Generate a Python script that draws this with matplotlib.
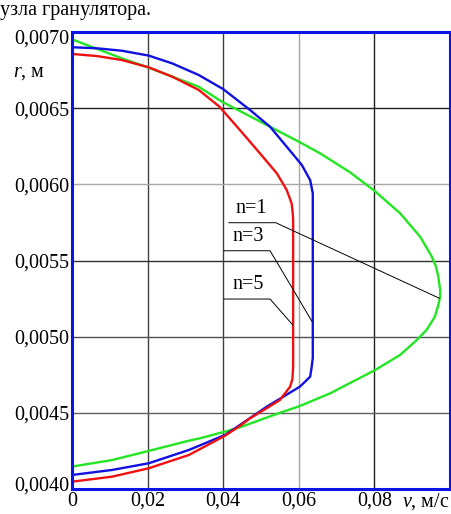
import matplotlib
matplotlib.use('Agg')
import matplotlib.pyplot as plt
from matplotlib.transforms import ScaledTranslation

plt.rcParams['font.family'] = ['Liberation Serif', 'DejaVu Serif']
plt.rcParams['mathtext.fontset'] = 'custom'
plt.rcParams['mathtext.rm'] = 'Liberation Serif'
plt.rcParams['mathtext.it'] = 'Liberation Serif:italic'

# n=1 (green)
v_n1 = [0, 0.0132, 0.0203, 0.0265, 0.0335, 0.0395, 0.0524, 0.060, 0.0656, 0.0735,
        0.080, 0.0868, 0.0921, 0.0952, 0.0963, 0.0969, 0.0974, 0.0974, 0.0969, 0.0960,
        0.0938, 0.0912, 0.0868, 0.0802, 0.0683, 0.0603, 0.055, 0.0444, 0.0414, 0.0339,
        0.0309, 0.0203, 0.0106, 0]
r_n1 = [0.006952, 0.006827, 0.006766, 0.006707, 0.006641, 0.006545, 0.006378, 0.00628,
        0.006204, 0.00608, 0.005958, 0.00581, 0.005656, 0.005525, 0.00546,
        0.005394, 0.005306, 0.005262, 0.005208, 0.005131, 0.005044, 0.004978, 0.00488,
        0.004781, 0.004628, 0.004545, 0.0045, 0.004405, 0.004383, 0.004333, 0.004317,
        0.00425, 0.00419, 0.004147]

# n=3 (blue)
v_n3 = [0, 0.0066, 0.0132, 0.0203, 0.0265, 0.0335, 0.0400, 0.0471, 0.0524, 0.0568, 0.0608,
        0.063, 0.0637, 0.0637, 0.0634, 0.063, 0.0603, 0.0559, 0.0515, 0.0444, 0.0405,
        0.0309, 0.0203, 0.0106, 0]
r_n3 = [0.0069, 0.006893, 0.006877, 0.006845, 0.006794, 0.006718, 0.006625, 0.006488,
        0.006378, 0.006247, 0.006127, 0.006028, 0.005941, 0.00486, 0.0048, 0.004737,
        0.004672, 0.004606, 0.00454, 0.00442, 0.004355, 0.004256, 0.004169, 0.004125,
        0.004092]

# n=5 (red)
v_n5 = [0, 0.0066, 0.0132, 0.0203, 0.0265, 0.0335, 0.039, 0.0444, 0.0497, 0.0542, 0.0568,
        0.0581, 0.0584, 0.0585, 0.0585, 0.0583, 0.0577, 0.055, 0.0515, 0.0471, 0.0444,
        0.0405, 0.0309, 0.0203, 0.0106, 0]
r_n5 = [0.006856, 0.006842, 0.006816, 0.006768, 0.006707, 0.00662, 0.00651, 0.006357,
        0.006204, 0.006072, 0.005963, 0.005875, 0.00581, 0.00576, 0.0048, 0.00472,
        0.004672, 0.004584, 0.00453, 0.004464, 0.004414, 0.00435, 0.004223, 0.004136,
        0.004081, 0.004048]

x_ticks = [0, 0.02, 0.04, 0.06, 0.08]
x_labels = ['0', '0,02', '0,04', '0,06', '0,08']
y_ticks = [0.0040, 0.0045, 0.0050, 0.0055, 0.0060, 0.0065, 0.0070]
y_labels = ['0,0040', '0,0045', '0,0050', '0,0055', '0,0060', '0,0065', '0,0070']

# curve labels: text, text pos, underline (x0, x1, y), end point on curve
labels = ['n=1', 'n=3', 'n=5']
label_xy = [(0.0475, 0.00584), (0.0466, 0.005656), (0.0466, 0.00534)]
under = [(0.0415, 0.0539, 0.005748), (0.0402, 0.0524, 0.005564), (0.0402, 0.0524, 0.005247)]
ends = [(0.0972, 0.005252), (0.0635, 0.00510), (0.0584, 0.005077)]

fs = 14.5
fig = plt.figure(figsize=(4.52, 5.14), dpi=100)
ax = fig.add_axes([72 / 452, 25 / 514, 378 / 452, 457 / 514])
ax.set_xlim(0, 0.1)
ax.set_ylim(0.004, 0.007)

ax.set_xticks(x_ticks)
ax.set_xticklabels(x_labels, fontsize=fs)
ax.set_yticks(y_ticks)
ax.set_yticklabels(y_labels, fontsize=fs)
ax.tick_params(length=0, pad=2)

ax.grid(True, lw=1.0)
xg_col = ['#404040', '#404040', '#404040', '#a8a8a8', '#202020']
for gl, c in zip(ax.get_xgridlines(), xg_col):
    gl.set_color(c)
yg_col = ['#404040', '#606060', '#505050', '#303030', '#a8a8a8', '#202020', '#202020']
for gl, c in zip(ax.get_ygridlines(), yg_col):
    gl.set_color(c)

# end labels nudged inward like in the original
ylabs = ax.get_yticklabels()
ylabs[0].set_transform(ylabs[0].get_transform() + ScaledTranslation(0, 5 / 100, fig.dpi_scale_trans))
ylabs[-1].set_transform(ylabs[-1].get_transform() + ScaledTranslation(0, -5 / 100, fig.dpi_scale_trans))

for s in ax.spines.values():
    s.set_color('#0a14e6')
    s.set_linewidth(2.2)

ax.plot(v_n1, r_n1, color='#22e622', lw=1.7, solid_joinstyle='round')
ax.plot(v_n3, r_n3, color='#1010e0', lw=1.7, solid_joinstyle='round')
ax.plot(v_n5, r_n5, color='#f01010', lw=1.7, solid_joinstyle='round')

for t, (tx, ty), (u0, u1, uy), (ex, ey) in zip(labels, label_xy, under, ends):
    ax.plot([u0, u1, ex], [uy, uy, ey], color='black', lw=0.7)
    ax.text(tx, ty, t, fontsize=fs, ha='center', va='center')

fig.text(13 / 452, 1 - 72 / 514, '$r$, м', fontsize=fs, ha='left', va='center')
fig.text(450 / 452, 1 - 502 / 514, '$v$, м/с', fontsize=fs, ha='right', va='center')
fig.text(0.0, 1 - 15 / 514, 'узла гранулятора.', fontsize=fs, ha='left', va='baseline')

fig.savefig('out.png', dpi=100)
